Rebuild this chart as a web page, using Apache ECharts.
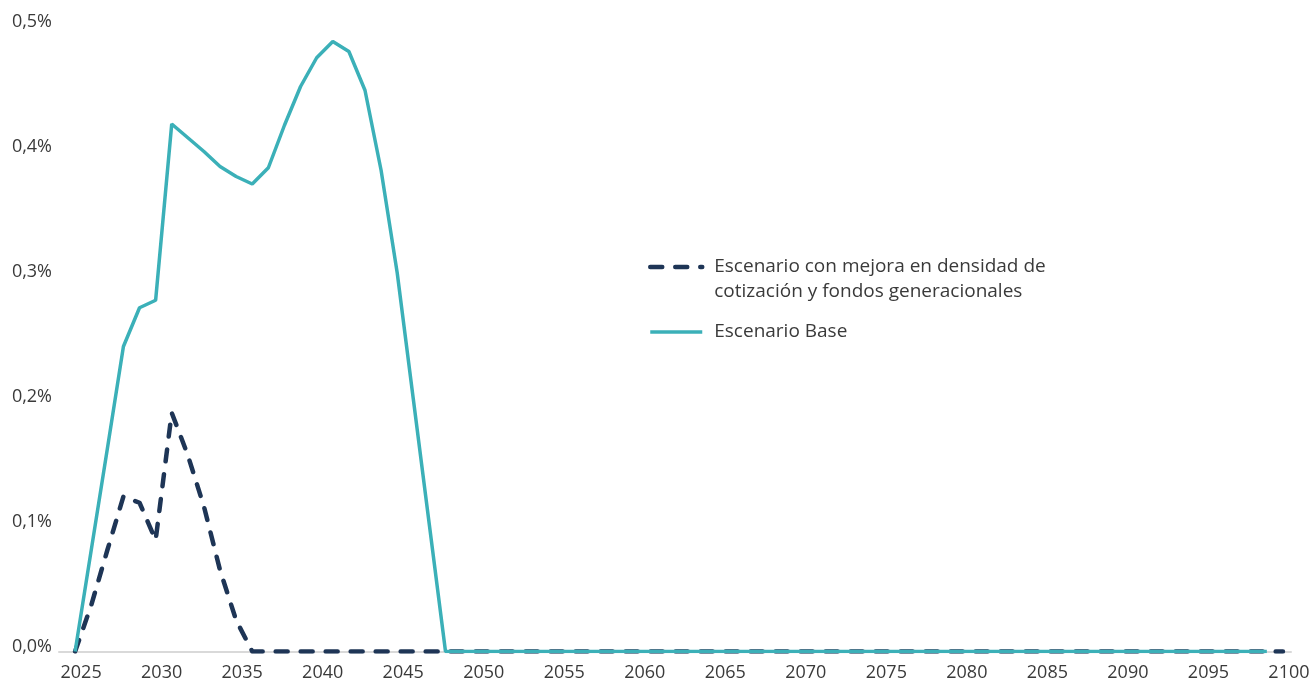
<!DOCTYPE html>
<html>
<head>
<meta charset="utf-8">
<script src="https://cdn.jsdelivr.net/npm/echarts@6/dist/echarts.min.js"></script>
<style>
  html, body { margin: 0; padding: 0; background: #ffffff; }
  #chart { width: 1314px; height: 680px; }
</style>
</head>
<body>
<div id="chart"></div>
<script>
// Años de la proyección
const years = [
  2025, 2026, 2027, 2028, 2029, 2030, 2031, 2032, 2033, 2034,
  2035, 2036, 2037, 2038, 2039, 2040, 2041, 2042, 2043, 2044,
  2045, 2046, 2047, 2048, 2049, 2050, 2051, 2052, 2053, 2054,
  2055, 2056, 2057, 2058, 2059, 2060, 2061, 2062, 2063, 2064,
  2065, 2066, 2067, 2068, 2069, 2070, 2071, 2072, 2073, 2074,
  2075, 2076, 2077, 2078, 2079, 2080, 2081, 2082, 2083, 2084,
  2085, 2086, 2087, 2088, 2089, 2090, 2091, 2092, 2093, 2094,
  2095, 2096, 2097, 2098, 2099, 2100
];

// Escenario con mejora en densidad de cotización y fondos generacionales (%, 2025-2100)
const mejora = [
  0, 0.037, 0.081, 0.124, 0.119, 0.089, 0.191, 0.157, 0.116, 0.065,
  0.025, 0, 0, 0, 0, 0, 0, 0, 0, 0,
  0, 0, 0, 0, 0, 0, 0, 0, 0, 0,
  0, 0, 0, 0, 0, 0, 0, 0, 0, 0,
  0, 0, 0, 0, 0, 0, 0, 0, 0, 0,
  0, 0, 0, 0, 0, 0, 0, 0, 0, 0,
  0, 0, 0, 0, 0, 0, 0, 0, 0, 0,
  0, 0, 0, 0, 0, 0
];

// Escenario Base (%, 2025-2099)
const base = [
  0, 0.081, 0.162, 0.244, 0.275, 0.281, 0.422, 0.411, 0.400, 0.388,
  0.380, 0.374, 0.387, 0.421, 0.452, 0.475, 0.488, 0.480, 0.449, 0.385,
  0.303, 0.202, 0.101, 0, 0, 0, 0, 0, 0, 0,
  0, 0, 0, 0, 0, 0, 0, 0, 0, 0,
  0, 0, 0, 0, 0, 0, 0, 0, 0, 0,
  0, 0, 0, 0, 0, 0, 0, 0, 0, 0,
  0, 0, 0, 0, 0, 0, 0, 0, 0, 0,
  0, 0, 0, 0, 0
];

// Etiquetas del eje X
const xTicks = [2025, 2030, 2035, 2040, 2045, 2050, 2055, 2060, 2065, 2070, 2075, 2080, 2085, 2090, 2095, 2100];

const nameMejora = 'Escenario con mejora en densidad de\ncotización y fondos generacionales';
const nameBase = 'Escenario Base';

const FONT = 'Open Sans';
const TEXT = '#3a3a3a';
const NAVY = '#1e3556';
const TEAL = '#3bb0b8';

const toPairs = (vals) => vals.map((v, i) => [years[i], v]);

const chart = echarts.init(document.getElementById('chart'), null, { renderer: 'canvas' });

chart.setOption({
  animation: false,
  backgroundColor: '#ffffff',
  textStyle: { fontFamily: FONT },
  grid: {
    left: 59, right: 23, top: 26.5, bottom: 28.5,
    containLabel: false,
    outerBoundsMode: 'none'
  },
  legend: {
    orient: 'vertical',
    left: 648,
    top: 229.5,
    padding: 0,
    itemWidth: 52,
    itemHeight: 14,
    itemGap: 15,
    itemStyle: { opacity: 0 },
    lineStyle: { width: 'inherit' },
    textStyle: { fontFamily: FONT, fontSize: 19, color: TEXT, lineHeight: 25, padding: [0, 0, 0, 7] },
    // the two-line entry gets an empty leading line so its first line sits beside the icon
    formatter: (name) => (name.indexOf('\n') >= 0 ? ' \n' + name : name),
    data: [nameMejora, nameBase]
  },
  xAxis: {
    type: 'value',
    min: 2024,
    max: 2100.5,
    axisLine: { show: true, onZero: false, lineStyle: { color: '#d9d9d9', width: 2 } },
    axisTick: { show: false },
    splitLine: { show: false },
    axisLabel: {
      customValues: xTicks,
      showMinLabel: true,
      showMaxLabel: true,
      fontFamily: FONT,
      fontSize: 18,
      color: TEXT,
      margin: 12,
      padding: [0, 0, 0, 12],
      formatter: (v) => String(v)
    }
  },
  yAxis: {
    type: 'value',
    min: 0,
    max: 0.5,
    interval: 0.1,
    axisLine: { show: false },
    axisTick: { show: false },
    splitLine: { show: false },
    axisLabel: {
      fontFamily: FONT,
      fontSize: 18,
      color: TEXT,
      margin: 7,
      verticalAlign: 'bottom',
      lineHeight: 10,
      formatter: (v) => v.toFixed(1).replace('.', ',') + '%'
    }
  },
  series: [
    {
      name: nameMejora,
      type: 'line',
      data: toPairs(mejora),
      symbol: 'none',
      lineStyle: { color: NAVY, width: 4.5, type: [12, 13], cap: 'round', join: 'round' },
      itemStyle: { color: NAVY },
      z: 2
    },
    {
      name: nameBase,
      type: 'line',
      data: toPairs(base),
      symbol: 'none',
      lineStyle: { color: TEAL, width: 3.5, type: 'solid' },
      itemStyle: { color: TEAL },
      z: 3
    }
  ]
});
</script>
</body>
</html>
